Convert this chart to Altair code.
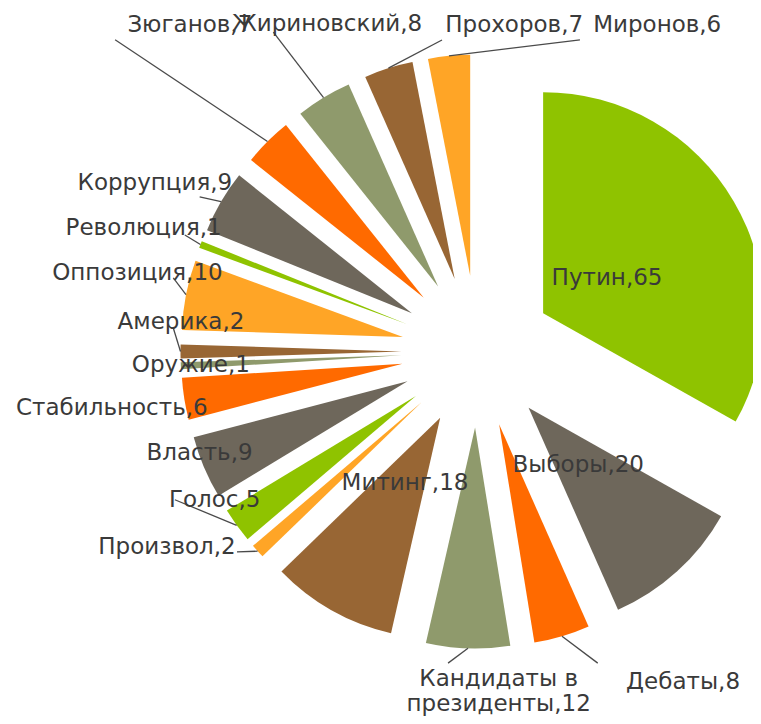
import altair as alt
import pandas as pd

# ---- data ----
categories = ["Путин", "Выборы", "Дебаты", "Кандидаты в президенты", "Митинг",
              "Произвол", "Голос", "Власть", "Стабильность", "Оружие", "Америка",
              "Оппозиция", "Революция", "Коррупция", "Зюганов", "Жириновский",
              "Прохоров", "Миронов"]
values = [65, 20, 8, 12, 18, 2, 5, 9, 6, 1, 2, 10, 1, 9, 7, 8, 7, 6]
labels = ["Путин,65", "Выборы,20", "Дебаты,8", "Кандидаты в\nпрезиденты,12",
          "Митинг,18", "Произвол,2", "Голос,5", "Власть,9", "Стабильность,6",
          "Оружие,1", "Америка,2", "Оппозиция,10", "Революция,1", "Коррупция,9",
          "Зюганов,7", "Жириновский,8", "Прохоров,7", "Миронов,6"]

# ---- layout (label placement in polar coords around the pie centre) ----
label_angle = [60.4, 138.5, 148.1, 176.3, 208.9, 237.8, 240.5, 249.9, 261.2,
               267.3, 275.7, 283.0, 290.3, 297.6, 318.6, 335.3, 6.4, 28.8]
label_radius = [149, 152, 389, 328, 150, 367, 302, 296, 370,
                287, 298, 349, 356, 364, 435, 360, 329, 373]
leader_angle = [None, None, 158.9, 185.4, None, 230.2, 243.9, None, None,
                None, 274.6, 283.6, 291.7, 299.1, 310.7, 327.4, 353.5, 18.2]
leader_radius = [None, None, 334, 313, None, 313, 337, None, None,
                 None, 305.5, 313, 315, 318, 478, 379, 313.5, 328]

palette = ["#8FC300", "#6E675B", "#FF6A00", "#8F9A6C", "#986634", "#FFA526"]
colors = [palette[i % len(palette)] for i in range(len(categories))]

CX, CY = 469.5, 343.5   # pie centre (px)
EXPLODE = 76            # explosion distance (px)
R = 221                 # slice radius (px)

df = pd.DataFrame({
    "order": list(range(len(categories))),
    "category": categories,
    "value": values,
    "label": labels,
    "label_angle": label_angle,
    "label_radius": label_radius,
    "leader_angle": leader_angle,
    "leader_radius": leader_radius,
})

base = (
    alt.Chart(df)
    .transform_joinaggregate(total="sum(value)")
    .transform_window(cum="sum(value)", sort=[alt.SortField("order")], frame=[None, 0])
    .transform_calculate(
        a0="2*PI*(datum.cum-datum.value)/datum.total",
        a1="2*PI*datum.cum/datum.total",
    )
    .transform_calculate(mid="(datum.a0+datum.a1)/2")
    .transform_calculate(
        cx=f"{CX}+{EXPLODE}*sin(datum.mid)",
        cy=f"{CY}-{EXPLODE}*cos(datum.mid)",
    )
)

arcs = base.mark_arc(radius=R).encode(
    x=alt.X("cx:Q", scale=None, axis=None),
    y=alt.Y("cy:Q", scale=None, axis=None),
    theta=alt.Theta("a0:Q", scale=None, stack=None),
    theta2="a1:Q",
    color=alt.Color("category:N", scale=alt.Scale(domain=categories, range=colors), legend=None),
)

rules = (
    base.transform_filter("isValid(datum.leader_radius)")
    .transform_calculate(
        x0=f"{CX}+{EXPLODE + R}*sin(datum.mid)",
        y0=f"{CY}-{EXPLODE + R}*cos(datum.mid)",
        x1=f"{CX}+datum.leader_radius*sin(datum.leader_angle*PI/180)",
        y1=f"{CY}-datum.leader_radius*cos(datum.leader_angle*PI/180)",
    )
    .mark_rule(color="#4a4a4a", strokeWidth=1.3)
    .encode(
        x=alt.X("x0:Q", scale=None, axis=None),
        y=alt.Y("y0:Q", scale=None, axis=None),
        x2="x1:Q",
        y2="y1:Q",
    )
)

texts = (
    base.transform_calculate(
        lx=f"{CX}+datum.label_radius*sin(datum.label_angle*PI/180)",
        ly=f"{CY}-datum.label_radius*cos(datum.label_angle*PI/180)",
    )
    .mark_text(font="DejaVu Sans", fontSize=23, color="#3a3a3a", lineBreak="\n",
               lineHeight=25, align="center", baseline="middle")
    .encode(
        x=alt.X("lx:Q", scale=None, axis=None),
        y=alt.Y("ly:Q", scale=None, axis=None),
        text="label:N",
    )
)

chart = (
    alt.layer(arcs, rules, texts)
    .properties(width=745, height=708, autosize=alt.AutoSizeParams(type="none"), padding=0)
    .configure_view(stroke=None)
)

chart.save("out.html", embed_options={"renderer": "svg", "actions": False})
